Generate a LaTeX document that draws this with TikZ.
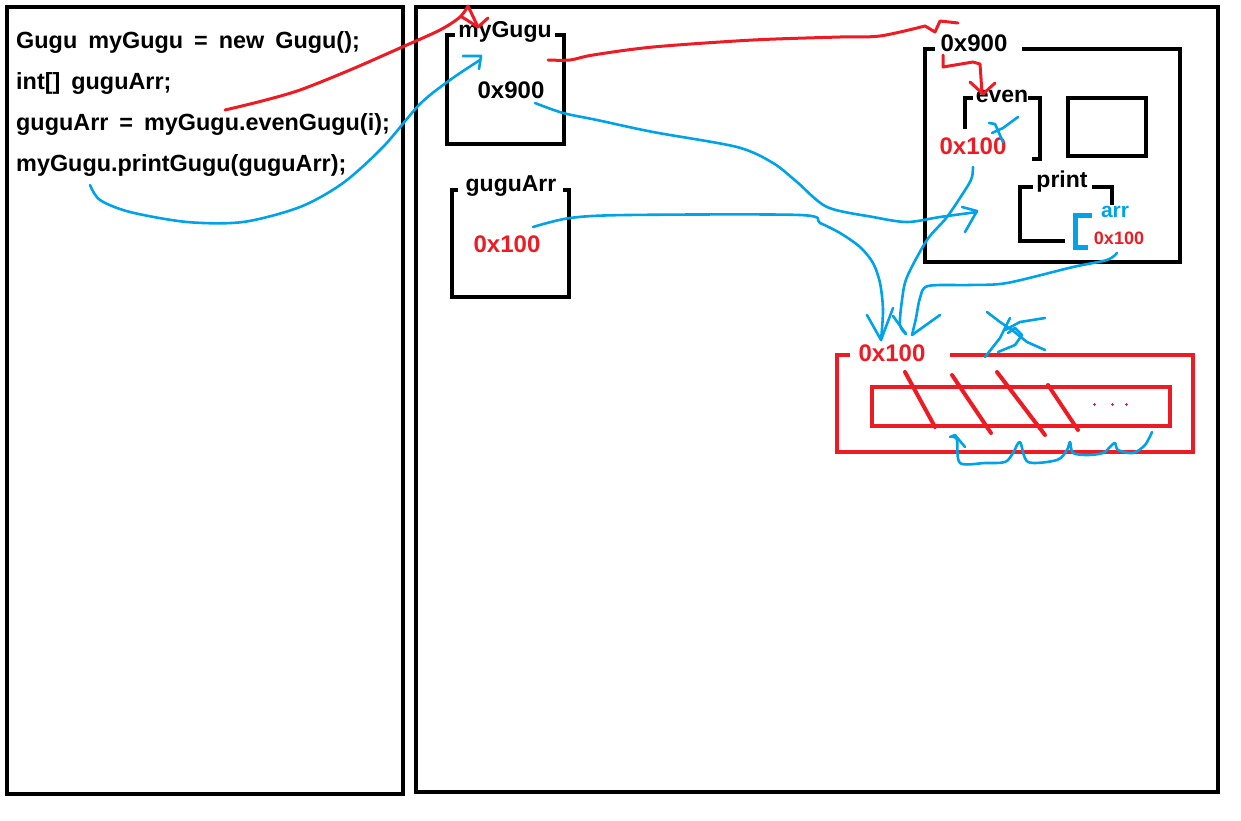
\documentclass[tikz,border=0pt]{standalone}
\usepackage{fontspec}
\setmainfont{Liberation Sans}
\definecolor{pred}{HTML}{ED1C24}
\definecolor{pblue}{HTML}{00A2E8}
\newcommand\wsp{\spaceskip=11pt\relax}
\begin{document}
\begin{tikzpicture}[x=1pt,y=-1pt,
  blk/.style={line width=4.5pt,line join=miter},
  rd/.style={draw=pred,line width=3pt,line cap=round,line join=round},
  bl/.style={draw=pblue,line width=2.6pt,line cap=round,line join=round},
  txt/.style={inner sep=0pt,anchor=west,font=\bfseries\fontsize{23.4}{26}\selectfont},
  lbl/.style={inner sep=0pt,font=\bfseries\fontsize{23}{26}\selectfont},
  addr/.style={inner sep=0pt,font=\bfseries\fontsize{24}{26}\selectfont},
  small/.style={inner sep=0pt,font=\bfseries\fontsize{18}{20}\selectfont}]
\useasboundingbox (0,0) rectangle (1241,820);
\fill[white] (0,0) rectangle (1241,820);
% frames
\draw[blk] (7,7) rectangle (403,794);
\draw[blk] (416,7) rectangle (1218,792);
% code
\node[txt] (c1) at (16,42) {\wsp Gugu myGugu = new Gugu();};
\node[txt] (c2) at (16,83) {\wsp int[] guguArr;};
\node[txt] (c3) at (16,124) {\wsp guguArr = myGugu.evenGugu(i);};
\node[txt] (c4) at (16,165) {\wsp myGugu.printGugu(guguArr);};
% myGugu variable
\draw[blk] (455,35) -- (447,35) -- (447,144) -- (564,144) -- (564,35) -- (555,35);
\node[lbl] (mg) at (505,32) {myGugu};
\node[addr] (mgv) at (511,90) {0x900};
% guguArr variable
\draw[blk] (458,190) -- (452,190) -- (452,297) -- (569,297) -- (569,190) -- (563,190);
\node[lbl] (ga) at (511,186) {guguArr};
\node[addr,text=pred] (gav) at (507,244) {0x100};
% object 0x900
\draw[blk] (935,49) -- (925,49) -- (925,262) -- (1180,262) -- (1180,49) -- (1022,49);
\node[addr] (obj) at (974,43) {0x900};
% even
\draw[blk] (973,98) -- (965,98) -- (965,129);
\draw[blk] (1028,98) -- (1040,98) -- (1040,159) -- (1032,159);
\node[lbl] (ev) at (1002,96) {even};
\node[addr,text=pred] (evv) at (973,146) {0x100};
\draw[blk] (1068,98) rectangle (1146,156);
% print
\draw[blk] (1033,187) -- (1020,187) -- (1020,241) -- (1065,241);
\draw[blk] (1092,187) -- (1112,187) -- (1112,205);
\node[lbl] (pr) at (1062,182) {print};
\draw[draw=pblue,line width=5pt] (1092,215) -- (1075,215) -- (1075,247) -- (1088,247);
\node[lbl,text=pblue,font=\bfseries\fontsize{21}{22}\selectfont] (arr) at (1115,212) {arr};
\node[small,text=pred] (arrv) at (1119,238) {0x100};
% array object
\draw[draw=pred,line width=4.5pt] (850,355) -- (837,355) -- (837,452) -- (1193,452) -- (1193,355) -- (950,355);
\node[addr,text=pred] (arv) at (892,353) {0x100};
\draw[draw=pred,line width=4.5pt] (872,387) rectangle (1170,426);
\foreach \a/\b/\c/\d in {905/372/935/427, 952/375/991/433, 997/372/1045/435, 1048/385/1078/430}
  \draw[draw=pred,line width=4pt,line cap=round] (\a,\b) -- (\c,\d);
\foreach \p in {1094,1112,1126}
  \draw[pred,line width=0.8pt] (\p-1.5,404) -- (\p+1.5,404) (\p,402.5) -- (\p,405.5);
% red arrows
\draw[rd] plot[smooth] coordinates {(225,110) (262,101) (300,90) (350,70) (400,48) (440,30) (460,17) (468,6)} -- (478,27);
\draw[rd] (462,17) -- (478,27) -- (488,18);
\draw[rd] plot[smooth] coordinates {(548,60) (570,60) (593,55) (653,47) (753,40) (840,37) (880,36) (925,26)} -- (935,32) -- (940,21) -- (958,23);
\draw[rd] (943,55) -- (943,67) -- (973,62) -- (980,64) -- (982,93);
\draw[rd] (970,82) -- (983,94) -- (995,83);
% blue arrows
\draw[bl] plot[smooth] coordinates {(90,185) (100,200) (130,212) (187,222) (243,222) (300,207) (343,183) (383,147) (420,104) (450,80) (480,60)};
\draw[bl] (463,56) -- (481,56) -- (479,69);
\draw[bl] plot[smooth] coordinates {(535,103) (563,113) (597,120) (653,132) (737,147) (773,163) (797,182) (827,207) (873,217) (907,222) (940,217) (977,212)};
\draw[bl] (962,207) -- (977,211) -- (965,232);
\draw[bl] plot[smooth] coordinates {(533,227) (570,218) (627,215) (800,215) (820,223) (840,233) (860,247) (873,263) (880,283) (883,310) (881,340)};
\draw[bl] (867,315) -- (881,340) -- (893,308);
\draw[bl] plot[smooth] coordinates {(973,167) (972,177) (967,187) (947,217) (927,240) (907,277) (902,300) (900,325) (906,334)};
\draw[bl] (893,316) -- (906,334);
\draw[bl] plot[smooth] coordinates {(1117,253) (1107,260) (1073,267) (1007,283) (970,285) (928,286) (920,298) (916,318) (912,335)};
\draw[bl] (940,315) -- (912,335);
% blue marks
\draw[bl] (989,123) -- (995,124) -- (1003,142);
\draw[bl] (992,133) -- (1003,128) -- (1018,117);
\draw[bl] (987,312) -- (1000,322) -- (1012,330) -- (1027,342) -- (1045,350);
\draw[bl] (1010,318) -- (1000,338) -- (985,357);
\draw[bl] (1005,330) -- (1020,322) -- (1045,318);
\draw[bl] (998,352) -- (1015,345) -- (1022,335) -- (1015,328) -- (1008,333);
\draw[bl] plot[smooth] coordinates {(1152,432) (1145,445) (1133,453) (1118,450) (1115,443) (1110,447) (1103,453) (1088,455) (1073,453) (1070,442) (1067,450) (1057,460) (1028,462) (1020,442) (1013,453) (1005,462) (985,463) (960,463) (957,440) (953,437)};
\draw[bl] (950,437) -- (955,435) -- (965,447);
\end{tikzpicture}
\end{document}
